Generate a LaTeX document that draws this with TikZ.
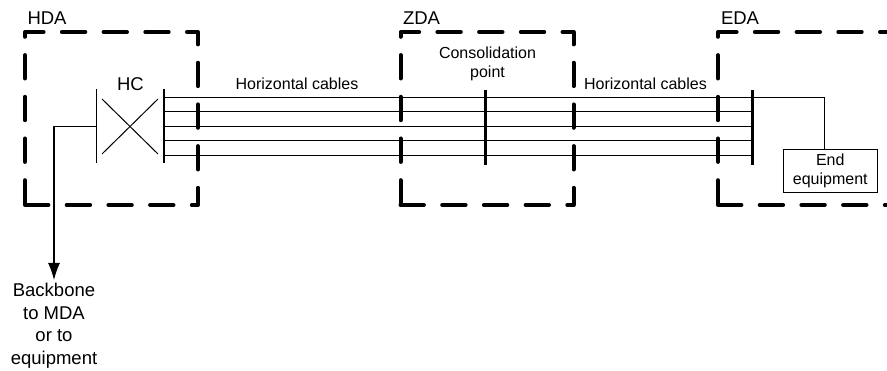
\documentclass[tikz,border=0pt]{standalone}
\usepackage{fontspec}
\setmainfont{Liberation Sans}
\usetikzlibrary{arrows.meta,positioning}
\tikzset{
	zonebox/.style={draw,line width=4pt,line cap=round,line join=round,dash pattern=on 23.4pt off 18.3pt,minimum width=173pt,minimum height=173pt,inner sep=0pt,outer sep=0pt},
	bigtext/.style={font=\fontsize{18.5}{22.7}\selectfont,inner sep=0pt,align=center},
	smalltext/.style={font=\fontsize{16}{18.7}\selectfont,inner sep=0pt,align=center},
	barline/.style={fill=black,minimum width=1.8pt,minimum height=74pt,inner sep=0pt,outer sep=0pt},
	widebar/.style={barline,minimum width=3pt,minimum height=75pt},
	cable/.style={line width=1pt},
}
\begin{document}
\begin{tikzpicture}[x=1pt,y=-1pt,cable]
	\clip (0,0) rectangle (887,371);
	% zones
	\node[zonebox] (hda) at (111.5,118.5) {};
	\node[zonebox] (zda) at (487,118.5) {};
	\node[zonebox] (eda) at (804.5,118.5) {};
	\node[bigtext,anchor=base west] (hdalabel) at (27,24.3) {HDA};
	\node[bigtext,anchor=base west] (zdalabel) at (402.5,24.3) {ZDA};
	\node[bigtext,anchor=base west] (edalabel) at (720.5,24.3) {EDA};
	% bars
	\node[barline] (hcleft) at (96.5,126.3) {};
	\node[barline] (hcright) at (164,126.3) {};
	\node[widebar] (cpbar) at (485,127.5) {};
	\node[widebar] (edabar) at (752,127.5) {};
	\node[bigtext,anchor=base] (hclabel) at (130.5,90.7) {HC};
	% cross connect
	\coordinate (crossa) at (102,99);
	\coordinate (crossb) at (158,154);
	\coordinate (crossc) at (158,99);
	\coordinate (crossd) at (102,154);
	\draw (crossa) -- (crossb);
	\draw (crossc) -- (crossd);
	% cables
	\foreach \y in {97.5,112,126.5,141,155.5}
		\draw (hcright.center |- 0,\y) -- (edabar.center |- 0,\y);
	\node[smalltext,anchor=base] (hleft) at (297,89.5) {Horizontal cables};
	\node[smalltext,anchor=base] (cplabel) at (487.5,77.5) {Consolidation\\point};
	\node[smalltext,anchor=base] (hright) at (645.5,89.5) {Horizontal cables};
	% end equipment
	\node[smalltext,draw,line width=0.8pt,minimum width=94pt,minimum height=43pt] (endeq) at (830.3,170.6) {End\\equipment};
	\coordinate (endeqtop) at (824.5,149);
	\draw (edabar.center |- 0,97.5) -| (endeqtop);
	% backbone
	\node[bigtext,anchor=north,outer sep=3pt] (backbone) at (54,280) {Backbone\\to MDA\\or to\\equipment};
	\draw[line width=1.2pt,-{Latex[length=17pt,width=12pt]}] (hcleft.center |- 0,126.5) -| (backbone.north);
\end{tikzpicture}
\end{document}
